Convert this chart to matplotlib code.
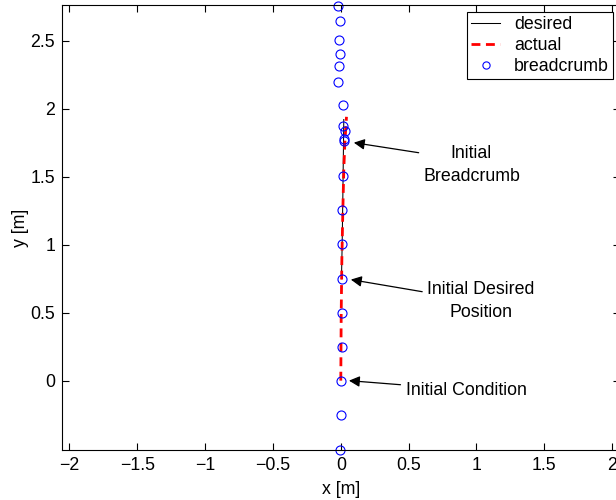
import numpy as np
import matplotlib.pyplot as plt

plt.rcParams['font.family'] = ['Liberation Sans', 'DejaVu Sans']
plt.rcParams['font.size'] = 12.8

# Desired trajectory (starts at the initial desired position)
desired_x = [0.005, 0.010, 0.015, 0.020, 0.022]
desired_y = [0.75, 1.00, 1.35, 1.75, 1.92]

# Actual robot path from the initial condition
actual_x = [0.000, 0.003, 0.008, 0.015, 0.022, 0.030, 0.042]
actual_y = [0.00, 0.50, 0.90, 1.25, 1.55, 1.75, 1.94]

# Breadcrumb positions
crumb_x = [-0.005, 0.000, 0.002, 0.007, 0.007, 0.010, 0.011, 0.012, 0.018,
           0.027, 0.022, 0.029, 0.015, 0.016, -0.020, -0.010, -0.007, -0.010,
           -0.007, -0.020]
crumb_y = [-0.507, -0.255, 0.000, 0.248, 0.500, 0.748, 1.003, 1.257, 1.507,
           1.765, 1.777, 1.833, 1.870, 2.030, 2.193, 2.311, 2.400, 2.507,
           2.647, 2.757]

xticks = [-2, -1.5, -1, -0.5, 0, 0.5, 1, 1.5, 2]
yticks = [0, 0.5, 1, 1.5, 2, 2.5]

fig = plt.figure(figsize=(6.16, 5.0), dpi=100)
ax = fig.add_axes([62 / 616, 0.1, 557.6 / 616, 444.7 / 500])

ax.plot(desired_x, desired_y, '-', color='k', lw=0.75, label='desired')
ax.plot(actual_x, actual_y, '--', color='r', lw=2.0, dashes=(3.2, 2), label='actual')
ax.plot(crumb_x, crumb_y, 'o', mfc='none', mec='b', ms=6.5, mew=0.8,
        label='breadcrumb', clip_on=False)

ax.set_xlim(-2.055, 2.055)
ax.set_ylim(-0.51, 2.76)
ax.set_xticks(xticks)
ax.set_yticks(yticks)
ax.set_xticklabels([('%g' % v).replace('-', '\u2212') for v in xticks])
ax.set_yticklabels(['%g' % v for v in yticks])
ax.tick_params(direction='in', top=True, right=True, length=5, width=0.8, pad=5)
for s in ax.spines.values():
    s.set_linewidth(0.8)

ax.set_xlabel('x [m]', labelpad=5)
ax.set_ylabel('y [m]', labelpad=1)

# Callouts
notes = [
    ('Initial\nBreadcrumb', (0.096, 1.75), (0.574, 1.676), (0.963, 1.585)),
    ('Initial Desired\nPosition', (0.074, 0.743), (0.60, 0.654), (1.03, 0.585)),
    ('Initial Condition', (0.06, 0.0), (0.44, -0.03), (0.926, -0.074)),
]
for txt, tip, tail, pos in notes:
    ax.annotate('', xy=tip, xytext=tail,
                arrowprops=dict(arrowstyle='-|>', color='k', lw=0.9,
                                mutation_scale=16, shrinkA=0, shrinkB=0))
    ax.text(pos[0], pos[1], txt, ha='center', va='center', linespacing=1.4)

leg = ax.legend(loc='upper right', fancybox=False, edgecolor='k', framealpha=1,
                handlelength=1.6, labelspacing=0.22, borderpad=0.25,
                borderaxespad=0.35, markerscale=0.8, handletextpad=0.8)
leg.get_frame().set_linewidth(0.8)

fig.savefig('out.png', dpi=100)
